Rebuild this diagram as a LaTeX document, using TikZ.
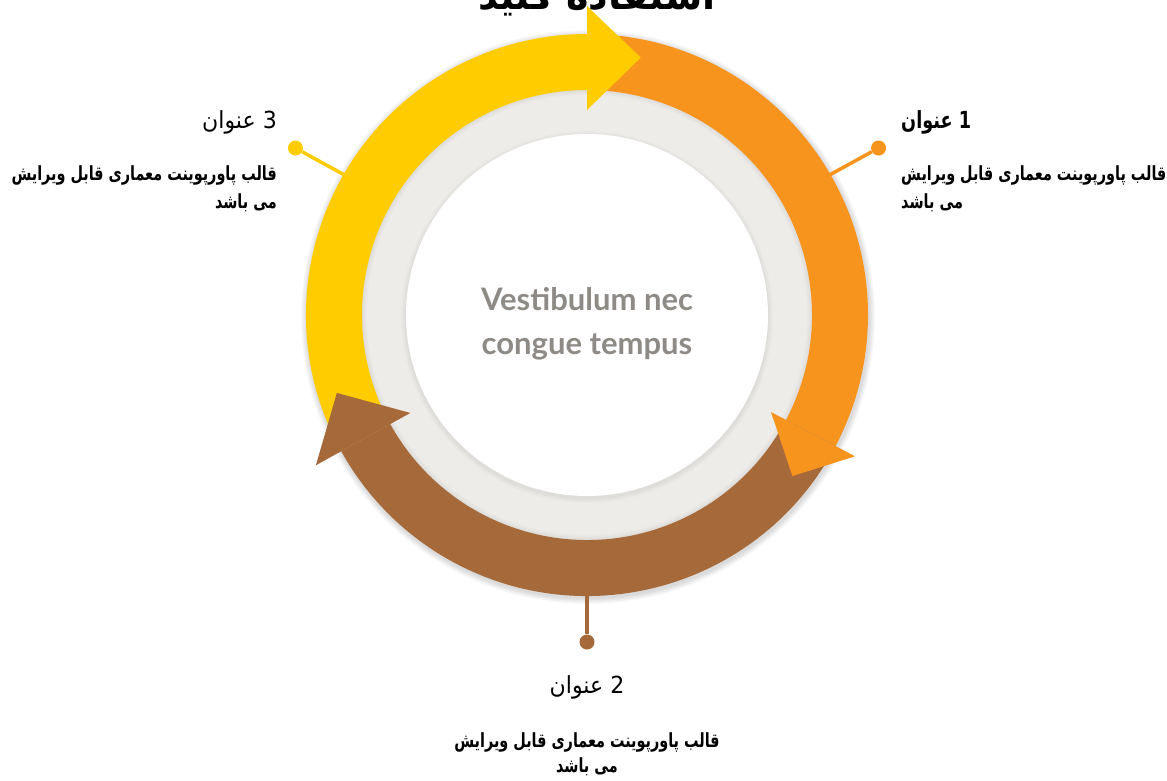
\documentclass[tikz,border=0pt]{standalone}
\usepackage{fontspec}
\setmainfont{DejaVu Sans}
\newfontfamily\arabicfont[Script=Arabic]{DejaVu Sans}
\newfontfamily\latofont{Lato}
\TeXXeTstate=1
\definecolor{cyellow}{HTML}{FFCC00}
\definecolor{corange}{HTML}{F7941E}
\definecolor{cbrown}{HTML}{A66A3A}
\definecolor{cgray}{HTML}{EDECE8}
\definecolor{ctext}{HTML}{8E8A85}
\newcommand{\descline}[1]{\scalebox{0.96}[1.3]{\beginR #1\endR}}
\newcommand{\headbold}[1]{\scalebox{0.84}[1.12]{\beginR #1\endR}}
\newcommand{\headreg}[1]{\scalebox{1.05}[1.12]{\beginR #1\endR}}
\tikzset{
  dotnode/.style={circle, fill=#1, inner sep=0pt, minimum size=15pt},
  leader/.style={line width=3.5pt, draw=#1},
  headtxt/.style={font=\arabicfont\fontsize{21}{25}\selectfont, inner sep=0pt},
  desctxt/.style={font=\arabicfont\bfseries\fontsize{15}{18}\selectfont, inner sep=0pt},
}
\begin{document}
\begin{tikzpicture}[x=1pt,y=-1pt]
\useasboundingbox (0,0) rectangle (1167,780);
\fill[white] (0,0) rectangle (1167,780);
% title (cut off at top)
\node[anchor=base, font=\arabicfont\bfseries\fontsize{40}{44}\selectfont, inner sep=0pt] (title) at (597,9) {\scalebox{0.95}[1]{\beginR استفاده کنید\endR}};
\begin{scope}[shift={(587,315)}, yscale=-1]
  % outer soft shadow
  \foreach \k in {1,...,6} \fill[black, opacity=0.022] (1,-2) circle[radius=281+\k];
  \fill[cgray] (0,0) circle[radius=226];
  \foreach \k in {1,...,6} \fill[black, opacity=0.012, even odd rule] (0,0) circle[radius=226] circle[radius=226-\k];
  \foreach \k in {1,...,5} \fill[black, opacity=0.01] (0,-2) circle[radius=181+\k];
  \fill[white] (0,0) circle[radius=181];
  % bodies
  \fill[cyellow] (209:281) arc[start angle=209, end angle=90, radius=281] -- (90:225) arc[start angle=90, end angle=209, radius=225] -- cycle;
  \fill[corange] (90:281) arc[start angle=90, end angle=-27.8, radius=281] -- (-27.8:225) arc[start angle=-27.8, end angle=90, radius=225] -- cycle;
  \fill[cbrown] (-27.8:281) arc[start angle=-27.8, end angle=-151, radius=281] -- (-151:225) arc[start angle=-151, end angle=-27.8, radius=225] -- cycle;
  % heads
  \fill[cyellow] (90:205) -- (78.2:263) -- (90:309) -- cycle;
  \fill[corange] (-27.8:208) -- (-38.1:261) -- (-27.8:303) -- cycle;
  \fill[cbrown] (-151:202) -- (-162.7:262) -- (-151:310) -- cycle;
  % connector anchors
  \coordinate (e1) at (30:280);
  \coordinate (e3) at (150:280);
  \coordinate (e2) at (-90:280);
  \node[dotnode=corange] (p1) at (29.8:336) {};
  \node[dotnode=cyellow] (p3) at (150.2:336) {};
  \node[dotnode=cbrown] (p2) at (-90:327) {};
\end{scope}
\draw[leader=corange] (e1) -- (p1);
\draw[leader=cyellow] (e3) -- (p3);
\draw[leader=cbrown] (e2) -- (p2);
% center text
\node[font=\latofont\bfseries\fontsize{31}{44}\selectfont, text=ctext, align=center] (center) at (587,324) {Vestibulum nec\\congue tempus};
% group 1 (right)
\node[headtxt, font=\arabicfont\bfseries\fontsize{21}{25}\selectfont, anchor=base west] (h1) at (901,128) {\headbold{1 عنوان}};
\node[desctxt, anchor=base west] (a1) at (901,180) {\descline{قالب پاورپوینت معماری قابل ویرایش}};
\node[desctxt, anchor=base west] (b1) at (901,208) {\descline{می باشد}};
% group 3 (left)
\node[headtxt, anchor=base east] (h3) at (277,128) {\headreg{3 عنوان}};
\node[desctxt, anchor=base east] (a3) at (277,180) {\descline{قالب پاورپوینت معماری قابل ویرایش}};
\node[desctxt, anchor=base east] (b3) at (277,208) {\descline{می باشد}};
% group 2 (bottom)
\node[headtxt, anchor=base] (h2) at (587,693) {\headreg{2 عنوان}};
\node[desctxt, anchor=base] (a2) at (587,747) {\descline{قالب پاورپوینت معماری قابل ویرایش}};
\node[desctxt, anchor=base] (b2) at (587,772) {\descline{می باشد}};
\end{tikzpicture}
\end{document}
